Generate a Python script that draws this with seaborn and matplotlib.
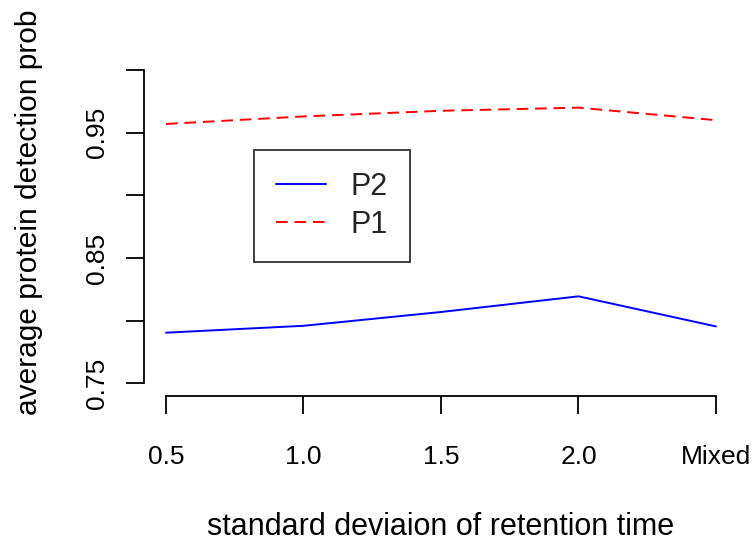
import matplotlib
matplotlib.use("Agg")
import matplotlib.pyplot as plt
from matplotlib.lines import Line2D
from matplotlib import font_manager
import numpy as np
import pandas as pd
import seaborn as sns

# Retention-time settings and mean detection probability per method
sd_labels = ["0.5", "1.0", "1.5", "2.0", "Mixed"]
p2_values = [0.7905, 0.796, 0.807, 0.8195, 0.7955]
p1_values = [0.957, 0.963, 0.9675, 0.970, 0.960]
y_ticks = [0.75, 0.80, 0.85, 0.90, 0.95, 1.00]
y_tick_labels = ["0.75", "", "0.85", "", "0.95", ""]

pos = np.arange(1, len(sd_labels) + 1)
df = pd.DataFrame({
    "pos": np.concatenate([pos, pos]),
    "prob": p2_values + p1_values,
    "method": ["P2"] * len(pos) + ["P1"] * len(pos),
})

sns.set_theme(style="white")
plt.rcParams["font.family"] = ["Liberation Sans", "DejaVu Sans"]

names = {f.name for f in font_manager.fontManager.ttflist}
tick_family = "Liberation Sans Narrow" if "Liberation Sans Narrow" in names else "Liberation Sans"
tick_size = 23 if tick_family == "Liberation Sans Narrow" else 19

fig = plt.figure(figsize=(7.54, 5.43), dpi=100)
ax = fig.add_axes([144 / 754, 1 - 396 / 543, 594 / 754, 338.5 / 543])

sns.lineplot(data=df, x="pos", y="prob", hue="method", style="method",
             palette={"P2": "#0000ff", "P1": "#ff0000"},
             dashes={"P2": "", "P1": (6, 3.5)},
             hue_order=["P2", "P1"], style_order=["P2", "P1"],
             linewidth=1.4, ax=ax, legend=False)

ax.set_xlim(1 - 0.16, 5 + 0.16)
ax.set_ylim(0.74, 1.01)
ax.set_xticks(pos)
ax.set_xticklabels(sd_labels, family=tick_family, fontsize=tick_size)
ax.set_yticks(y_ticks)
ax.set_yticklabels(y_tick_labels, rotation=90, va="center",
                   family=tick_family, fontsize=tick_size)

for side in ["top", "right"]:
    ax.spines[side].set_visible(False)
ax.spines["left"].set_bounds(0.75, 1.00)
ax.spines["bottom"].set_bounds(1, 5)
for side in ["left", "bottom"]:
    ax.spines[side].set_color("black")
    ax.spines[side].set_linewidth(1.3)

ax.tick_params(axis="both", which="major", direction="out", length=13,
               width=1.3, color="black", labelcolor="black",
               left=True, bottom=True)
ax.tick_params(axis="x", pad=22)
ax.tick_params(axis="y", pad=12)

ax.set_xlabel("standard deviaion of retention time", fontsize=22,
              color="black", labelpad=31)
ax.set_ylabel("average protein detection prob", fontsize=21.5,
              color="black")
ax.yaxis.set_label_coords((43 - 144) / 594, (396 - 212) / 338.5)

handles = [Line2D([], [], color="#0000ff", lw=1.4),
           Line2D([], [], color="#ff0000", lw=1.4, ls=(0, (6, 3.5)))]
leg = ax.legend(handles, ["P2", "P1"], loc="upper left",
                bbox_to_anchor=((254 - 144) / 594, (396 - 150) / 338.5),
                prop={"family": "Liberation Sans", "size": 22},
                frameon=True, fancybox=False,
                handlelength=1.63, handletextpad=0.82, borderpad=0.72,
                labelspacing=0.25, borderaxespad=0)
leg.get_frame().set_edgecolor("black")
leg.get_frame().set_linewidth(1.3)

fig.savefig("out.png", dpi=100, facecolor="white")
